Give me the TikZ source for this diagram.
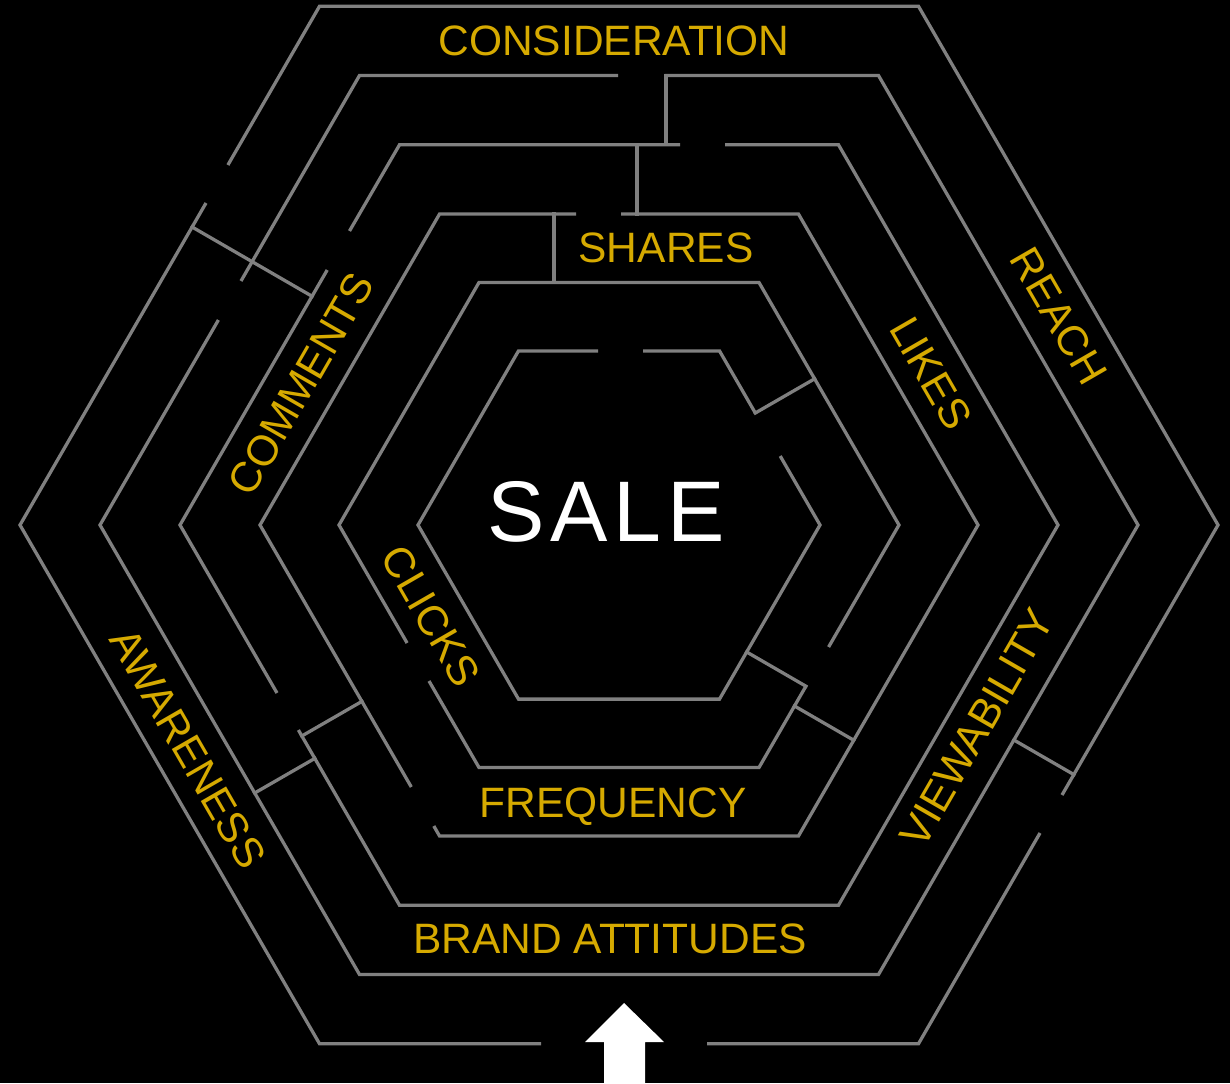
\documentclass[tikz,border=0pt]{standalone}
\usepackage{fontspec}
\setmainfont{Liberation Sans}
\definecolor{wallgray}{RGB}{128,128,128}
\definecolor{gold}{RGB}{214,170,0}
\tikzset{
  wall/.style={draw=wallgray, line width=3.3pt, line join=miter},
  link/.style={draw=wallgray, line width=3.3pt, line cap=rect},
  lbl/.style={text=gold, font=\fontsize{42.5}{50}\selectfont, inner sep=0pt, text depth=0pt},
}
\begin{document}
\begin{tikzpicture}[x=1pt,y=-1pt]
\fill[black] (0,0) rectangle (1230,1083);
\useasboundingbox (0,0) rectangle (1230,1083);
% ring 1 (outer)
\draw[wall] (227.9,165) -- (319.5,6.3) -- (918.5,6.3) -- (1218,525) -- (1062,795);
\draw[wall] (1040,833) -- (918.5,1043.7) -- (707,1043.7);
\draw[wall] (541,1043.7) -- (319.5,1043.7) -- (20,525) -- (206,203);
% ring 2
\draw[wall] (618,75.5) -- (359.5,75.5) -- (241,281);
\draw[wall] (218.4,320) -- (100,525) -- (359.5,974.5) -- (878.5,974.5) -- (1138,525) -- (878.5,75.5) -- (664.5,75.5);
% ring 3
\draw[wall] (680,144.8) -- (399.5,144.8) -- (349.5,231);
\draw[wall] (327.2,270) -- (180,525) -- (277,693);
\draw[wall] (298.4,730) -- (399.5,905.2) -- (838.5,905.2) -- (1058,525) -- (838.5,144.8) -- (725,144.8);
% ring 4
\draw[wall] (576,214.1) -- (439.5,214.1) -- (260,525) -- (411.3,787);
\draw[wall] (433.8,826) -- (439.5,835.9) -- (798.5,835.9) -- (978,525) -- (798.5,214.1) -- (621,214.1);
% ring 5
\draw[wall] (828.6,647) -- (899,525) -- (759,282.5) -- (479,282.5) -- (339,525) -- (407.1,643);
\draw[wall] (429,681) -- (479,767.5) -- (759,767.5) -- (805.9,686.2);
% ring 6 (inner)
\draw[wall] (643,350.9) -- (719.5,350.9) -- (755.3,413);
\draw[wall] (780.2,456) -- (820,525) -- (719.5,699.1) -- (518.5,699.1) -- (418,525) -- (518.5,350.9) -- (598,350.9);
% cross walls
\coordinate (c1a) at (192.1,227);   \coordinate (c1b) at (312.1,296.3);
\coordinate (c2a) at (666,75.5);    \coordinate (c2b) at (666,144.8);
\coordinate (c3a) at (637,144.8);   \coordinate (c3b) at (637,214.1);
\coordinate (c4a) at (554,214.1);   \coordinate (c4b) at (554,282.5);
\coordinate (c5a) at (755.3,413);   \coordinate (c5b) at (814.6,378.8);
\coordinate (c6a) at (746.7,652);   \coordinate (c6b) at (805.9,686.2);
\coordinate (c7a) at (794.5,706);   \coordinate (c7b) at (853.7,740.2);
\coordinate (c8a) at (1013.9,740);  \coordinate (c8b) at (1073.9,774.6);
\coordinate (c9a) at (254.7,793);   \coordinate (c9b) at (314.8,758.4);
\coordinate (c10a) at (301.8,736);  \coordinate (c10b) at (361.9,701.4);
\foreach \i in {1,...,10} { \draw[link] (c\i a) -- (c\i b); }
% labels
\node[lbl] (consideration) at (614,41) {CONSIDERATION};
\node[lbl] (shares) at (666,248) {SHARES};
\node[lbl] (frequency) at (613,803) {FREQUENCY};
\node[lbl] (brand) at (610,939) {BRAND ATTITUDES};
\node[lbl, rotate=-60] (reach) at (1059,316) {REACH};
\node[lbl, rotate=-60] (likes) at (931,373) {LIKES};
\node[lbl, rotate=60] (comments) at (301,384) {COMMENTS};
\node[lbl, rotate=-60] (clicks) at (431,616) {CLICKS};
\node[lbl, rotate=-60] (awareness) at (188,748) {AWARENESS};
\node[lbl, rotate=60] (viewability) at (977,728) {VIEWABILITY};
\node[text=white, font=\addfontfeatures{LetterSpace=7}\fontsize{86}{100}\selectfont, inner sep=0pt, text depth=0pt] (sale) at (606,511) {SALE};
% entry arrow
\fill[white] (624,1003) -- (664,1042) -- (645,1042) -- (645,1083) -- (604,1083) -- (604,1042) -- (585,1042) -- cycle;
\end{tikzpicture}
\end{document}
